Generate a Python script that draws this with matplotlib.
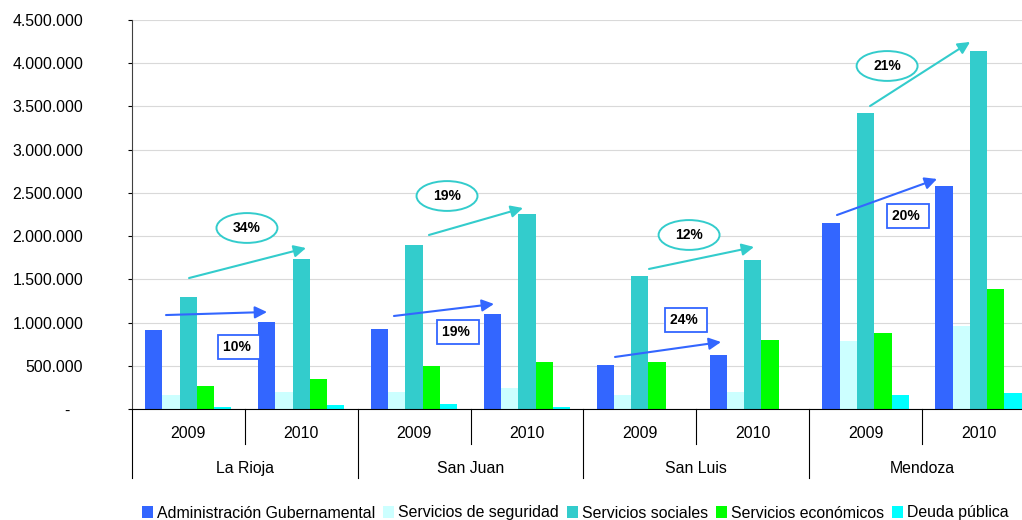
import matplotlib
matplotlib.use("Agg")
import matplotlib.pyplot as plt
from matplotlib.patches import Patch, Ellipse
from matplotlib.ticker import FuncFormatter
import numpy as np

plt.rcParams['font.family'] = ['Liberation Sans', 'DejaVu Sans']

# --- datos ---
provincias = ["La Rioja", "San Juan", "San Luis", "Mendoza"]
anios = ["2009", "2010"]
series = ["Administración Gubernamental", "Servicios de seguridad",
          "Servicios sociales", "Servicios económicos", "Deuda pública"]
colores = ["#3366FF", "#CCFFFF", "#33CCCC", "#00FF00", "#00FFFF"]

# orden: La Rioja 09, 10, San Juan 09, 10, San Luis 09, 10, Mendoza 09, 10
adm_gub = [915000, 1006000, 925000, 1099000, 509000, 625000, 2152000, 2580000]
seguridad = [162000, 200000, 197000, 243000, 162000, 197000, 787000, 960000]
sociales = [1296000, 1735000, 1897000, 2256000, 1540000, 1720000, 3424000, 4140000]
economicos = [266000, 347000, 497000, 544000, 544000, 798000, 879000, 1388000]
deuda = [25000, 46000, 58000, 23000, 0, 0, 162000, 185000]

# variaciones (%)
var_sociales = ["34%", "19%", "12%", "21%"]
var_adm = ["10%", "19%", "24%", "20%"]

valores = [adm_gub, seguridad, sociales, economicos, deuda]

# --- gráfico ---
fig = plt.figure(figsize=(10.22, 5.2), dpi=100)
ax = fig.add_axes([131.8 / 1022, 111 / 520, (1035 - 131.8) / 1022, 389 / 520])

x = np.arange(len(adm_gub))
w = 0.153
for i, (vals, col) in enumerate(zip(valores, colores)):
    ax.bar(x + (i - 2) * w, vals, width=w, color=col, zorder=2)

ax.set_xlim(-0.5, 7.5)
ax.set_ylim(0, 4500000)
ax.set_yticks(np.arange(0, 4500001, 500000))
ax.yaxis.set_major_formatter(FuncFormatter(
    lambda v, p: "-   " if v == 0 else f"{int(v):,}".replace(",", ".")))
ax.tick_params(axis='y', direction='out', length=3, pad=32, labelsize=11.4)
ax.set_xticks([])
ax.yaxis.grid(True, color='#d9d9d9', lw=0.8)
ax.set_axisbelow(True)
for s in ["top", "right"]:
    ax.spines[s].set_visible(False)
ax.spines["left"].set_color("#404040")
ax.spines["bottom"].set_color("black")

# eje x de dos niveles
tr = ax.get_xaxis_transform()
for j in range(len(adm_gub)):
    ax.text(j, -0.0617, anios[j % 2], transform=tr, ha='center', va='center', fontsize=11.4)
for k, prov in enumerate(provincias):
    ax.text(2 * k + 0.5, -0.152, prov, transform=tr, ha='center', va='center', fontsize=11.4)
for b in np.arange(-0.5, 8, 1):
    largo = -0.177 if (b + 0.5) % 2 == 0 else -0.09
    ax.plot([b, b], [0, largo], transform=tr, color='black', lw=0.8, clip_on=False)

# flechas y etiquetas de variación
flechas_soc = [((0.007, 1.515e6), (1.043, 1.862e6)), ((2.132, 2.013e6), (2.965, 2.325e6)),
               ((4.081, 1.620e6), (5.011, 1.874e6)), ((6.039, 3.505e6), (6.925, 4.246e6))]
pos_soc = [(0.52, 2.094e6), (2.292, 2.464e6), (4.436, 2.013e6), (6.19, 3.968e6)]
flechas_adm = [((-0.197, 1.087e6), (0.698, 1.122e6)), ((1.822, 1.076e6), (2.708, 1.215e6)),
               ((3.78, 0.602e6), (4.719, 0.775e6)), ((5.746, 2.244e6), (6.632, 2.661e6))]
pos_adm = [(0.45, 0.717e6), (2.389, 0.891e6), (4.409, 1.03e6), (6.375, 2.233e6)]

for (a, b), (tx, ty), lab in zip(flechas_soc, pos_soc, var_sociales):
    ax.annotate("", xy=b, xytext=a,
                arrowprops=dict(arrowstyle='-|>', color='#33CCCC', lw=1.5,
                                mutation_scale=18, shrinkA=0, shrinkB=0), zorder=4)
    ax.add_patch(Ellipse((tx, ty), 0.54, 345000, fc='white', ec='#33CCCC', lw=1.4, zorder=5))
    ax.text(tx, ty, lab, ha='center', va='center', fontsize=10, fontweight='bold', zorder=6)

for (a, b), (tx, ty), lab in zip(flechas_adm, pos_adm, var_adm):
    ax.annotate("", xy=b, xytext=a,
                arrowprops=dict(arrowstyle='-|>', color='#3366FF', lw=1.5,
                                mutation_scale=18, shrinkA=0, shrinkB=0), zorder=4)
    ax.text(tx, ty, lab + " ", ha='center', va='center', fontsize=10, fontweight='bold', zorder=5,
            bbox=dict(boxstyle='square,pad=0.35', fc='white', ec='#3366FF', lw=1.3))

handles = [Patch(facecolor=c, edgecolor='none') for c in colores]
fig.legend(handles, series, loc='center left', bbox_to_anchor=(142 / 1022, 7 / 520),
           ncol=5, frameon=False, fontsize=11.4, handlelength=0.7, handleheight=0.7,
           handletextpad=0.25, columnspacing=0.5, borderaxespad=0, borderpad=0)

fig.savefig("out.png", dpi=100)
